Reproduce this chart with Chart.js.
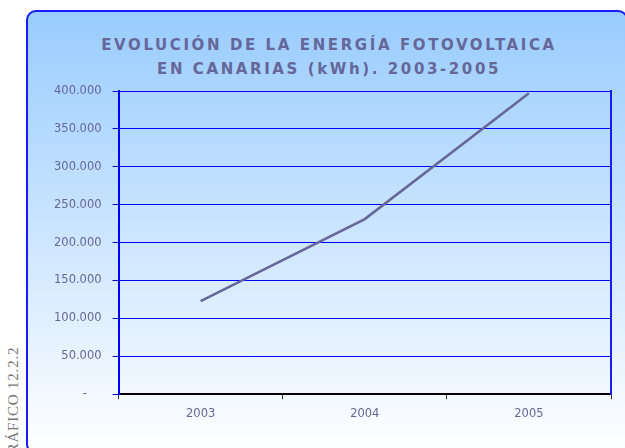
<!DOCTYPE html>
<html>
<head>
<meta charset="utf-8">
<script src="https://cdn.jsdelivr.net/npm/chart.js@4"></script>
<style>
  html, body { margin: 0; padding: 0; background: #fff; overflow: hidden; }
  #wrap { position: relative; width: 625px; height: 448px; overflow: hidden; }
  #panel {
    position: absolute; left: 26px; top: 10px; width: 598px; height: 440px;
    border: 2px solid #1a1aff; border-radius: 10px;
    background: linear-gradient(to bottom, #99ccff 0%, #ffffff 100%);
  }
  #title {
    position: absolute; left: 0; top: 33px; width: 658px; text-align: center;
    font: bold 15px 'DejaVu Sans', sans-serif; letter-spacing: 2.6px;
    line-height: 24px; color: #666699;
  }
  #side {
    position: absolute; left: 4.5px; top: 465px; line-height: 15px;
    transform: rotate(-90deg); transform-origin: 0 0;
    font: 15px 'Liberation Serif', serif; color: #777; white-space: nowrap;
    letter-spacing: 0.8px;
  }
  canvas { position: absolute; left: 0; top: 0; }
</style>
</head>
<body>
<div id="wrap">
  <div id="panel"></div>
  <div id="title">EVOLUCIÓN DE LA ENERGÍA FOTOVOLTAICA<br>EN CANARIAS (kWh). 2003-2005</div>
  <div id="side">GRÁFICO 12.2.2</div>
  <canvas id="pvChart" width="625" height="448"></canvas>
</div>
<script>
// Produccion fotovoltaica anual (kWh)
const years = ['2003', '2004', '2005'];
const kwh = [122700, 231000, 397000];
const yMax = 400000;
const yStep = 50000;

// 350000 -> "350.000", 0 -> "-"
function formatKwh(value) {
    if (value === 0) return '-    ';
    return String(value).replace(/\B(?=(\d{3})+(?!\d))/g, '.');
}

const ctx = document.getElementById('pvChart').getContext('2d');

const chart = new Chart(ctx, {
    type: 'line',
    data: {
        labels: years,
        datasets: [{
            data: kwh,
            borderColor: '#666699',
            borderWidth: 2.5,
            pointRadius: 0,
            tension: 0
        }]
    },
    options: {
        responsive: false,
        animation: false,
        layout: {
            padding: { left: 43, right: 14, top: 91, bottom: 19 }
        },
        plugins: {
            legend: { display: false },
            tooltip: { enabled: false }
        },
        scales: {
            x: {
                offset: true,
                grid: {
                    offset: true,
                    drawOnChartArea: false,
                    tickLength: 5,
                    tickColor: '#333333'
                },
                border: { color: '#000000', width: 2 },
                ticks: {
                    color: '#666699',
                    padding: 8,
                    font: { family: 'DejaVu Sans', size: 11.5 }
                }
            },
            y: {
                min: 0,
                max: yMax,
                ticks: {
                    stepSize: yStep,
                    color: '#666699',
                    padding: 11,
                    font: { family: 'DejaVu Sans', size: 11.5 },
                    callback: (v) => formatKwh(v)
                },
                grid: {
                    color: '#0000ff',
                    lineWidth: 1,
                    tickLength: 6,
                    tickColor: '#0000cc'
                },
                border: { color: '#0000ff', width: 2 }
            },
            yRight: {
                position: 'right',
                min: 0,
                max: yMax,
                ticks: { display: false },
                grid: { drawOnChartArea: false, drawTicks: false },
                border: { color: '#1a1aff', width: 2 }
            }
        }
    }
});
</script>
</body>
</html>
